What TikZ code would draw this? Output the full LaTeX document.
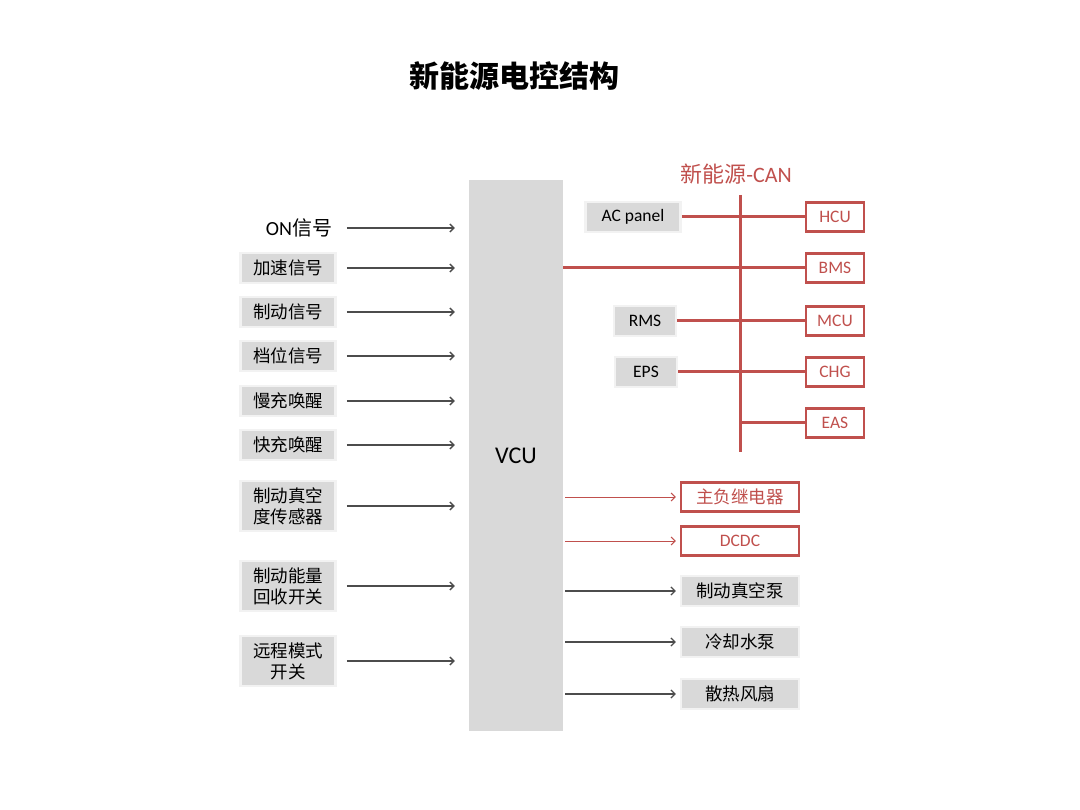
\documentclass[tikz,border=0pt]{standalone}
\usepackage{fontspec}
\setmainfont{Carlito}
\newfontfamily\cjk{Noto Sans CJK SC}
\usetikzlibrary{arrows.meta}
\definecolor{canred}{RGB}{192,80,77}
\definecolor{boxgray}{RGB}{217,217,217}
\tikzset{
  graybox/.style={fill=boxgray, draw=black!5, line width=2.5pt, minimum width=95pt,
    minimum height=30pt, inner sep=1pt, align=center, font=\fontsize{17.5}{21}\selectfont},
  redbox/.style={fill=white, draw=canred, line width=2.5pt, text=canred, minimum height=29pt,
    inner sep=1pt, font=\fontsize{17.5}{21}\selectfont},
  tip/.style={-{Straight Barb[length=4pt,width=8pt]}},
  sig/.style={tip, line width=1.3pt, black!70, shorten <=10pt, shorten >=14pt},
  outsig/.style={tip, line width=1.2pt, black!70, shorten <=2pt, shorten >=4pt},
  relay/.style={tip, line width=1pt, canred, shorten <=2pt, shorten >=4pt},
  bus/.style={canred, line width=3pt},
}
\begin{document}
\begin{tikzpicture}[x=1pt,y=-1pt]
\useasboundingbox (0,0) rectangle (1080,810);

% title
\node[font=\fontsize{30}{34}\selectfont\cjk\bfseries] (title) at (514,76) {新能源电控结构};

% controller
\node[fill=boxgray, minimum width=94pt, minimum height=551pt,
      font=\fontsize{24}{28}\selectfont] (vcu) at (516,455.5) {VCU};

% inputs
\node[graybox, fill=none, draw=none, text width=88pt, align=right,
      font=\fontsize{20}{24}\selectfont] (on) at (288,228) {ON{\cjk 信号}};
\node[graybox] (acc) at (288,268) {\cjk 加速信号};
\node[graybox] (brk) at (288,312) {\cjk 制动信号};
\node[graybox] (gear) at (288,356) {\cjk 档位信号};
\node[graybox] (slow) at (288,401) {\cjk 慢充唤醒};
\node[graybox] (fast) at (288,445) {\cjk 快充唤醒};
\node[graybox, minimum height=50pt] (vac) at (288,506) {\cjk 制动真空\\\cjk 度传感器};
\node[graybox, minimum height=50pt] (regen) at (288,586) {\cjk 制动能量\\\cjk 回收开关};
\node[graybox, minimum height=50pt] (remote) at (288,661) {\cjk 远程模式\\\cjk 开关};

\draw[sig] (on.east) -- (on.east -| vcu.west);
\draw[sig] (acc.east) -- (acc.east -| vcu.west);
\draw[sig] (brk.east) -- (brk.east -| vcu.west);
\draw[sig] (gear.east) -- (gear.east -| vcu.west);
\draw[sig] (slow.east) -- (slow.east -| vcu.west);
\draw[sig] (fast.east) -- (fast.east -| vcu.west);
\draw[sig] (vac.east) -- (vac.east -| vcu.west);
\draw[sig] (regen.east) -- (regen.east -| vcu.west);
\draw[sig] (remote.east) -- (remote.east -| vcu.west);

% CAN bus
\node[text=canred, font=\fontsize{22}{26}\selectfont] (canlbl) at (736,174) {{\cjk 新能源}-CAN};
\coordinate (bustop) at (740,195);
\coordinate (busbot) at (740,452);
\draw[bus] (bustop) -- (busbot);

\node[graybox] (acp) at (633,217) {AC panel};
\node[graybox, minimum width=62pt] (rms) at (645,321) {RMS};
\node[graybox, minimum width=62pt] (eps) at (646,372) {EPS};

\node[redbox, minimum width=58pt] (hcu) at (835,217) {HCU};
\node[redbox, minimum width=58pt] (bms) at (835,268) {BMS};
\node[redbox, minimum width=58pt] (mcu) at (835,321) {MCU};
\node[redbox, minimum width=58pt] (chg) at (835,372) {CHG};
\node[redbox, minimum width=58pt] (eas) at (835,423) {EAS};

\draw[bus] (acp.east) -- (hcu.west);
\draw[bus] (vcu.east |- bms.west) -- (bms.west);
\draw[bus] (rms.east) -- (mcu.west);
\draw[bus] (eps.east) -- (chg.west);
\draw[bus] (bustop |- eas.west) -- (eas.west);

% outputs
\node[redbox, minimum width=118pt] (rly) at (740,497) {\cjk 主负继电器};
\node[redbox, minimum width=118pt] (dcdc) at (740,541) {DCDC};
\node[graybox, minimum width=118pt] (pump) at (740,591) {\cjk 制动真空泵};
\node[graybox, minimum width=118pt] (cool) at (740,642) {\cjk 冷却水泵};
\node[graybox, minimum width=118pt] (fan) at (740,694) {\cjk 散热风扇};

\draw[relay] (vcu.east |- rly.west) -- (rly.west);
\draw[relay] (vcu.east |- dcdc.west) -- (dcdc.west);
\draw[outsig] (vcu.east |- pump.west) -- (pump.west);
\draw[outsig] (vcu.east |- cool.west) -- (cool.west);
\draw[outsig] (vcu.east |- fan.west) -- (fan.west);
\end{tikzpicture}
\end{document}
